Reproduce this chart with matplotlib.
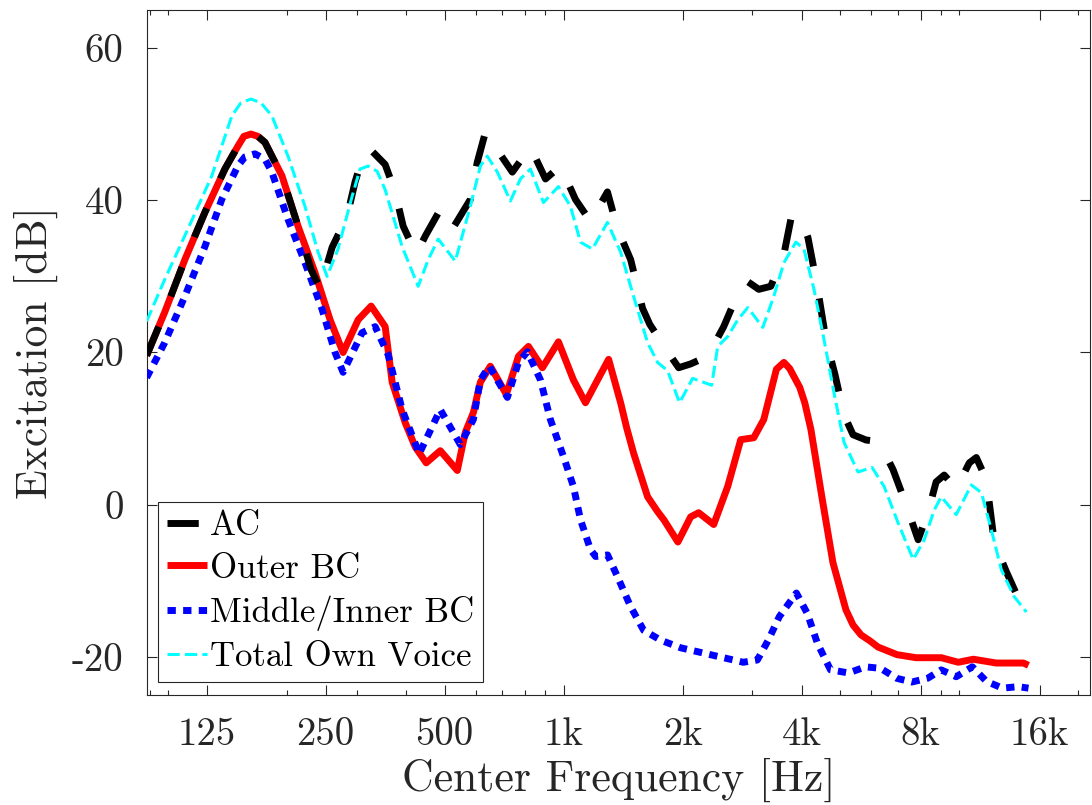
import matplotlib
matplotlib.use("Agg")
import matplotlib.pyplot as plt
from matplotlib.ticker import FixedLocator, FixedFormatter, LogLocator, NullFormatter

plt.rcParams['font.family'] = ['cmr10', 'DejaVu Serif']
plt.rcParams['axes.unicode_minus'] = False

# AC (air conducted)
f_ac = [88.2, 98.0, 110.2, 123.8, 139.1, 150.0, 155.4, 161.9, 168.6, 175.7, 194.0, 213.0,
        229.8, 242.2, 259.7, 283.5, 296.9, 313.0, 324.2, 353.8, 375, 392.9, 424, 446.9,
        487.7, 523, 580.9, 605, 634, 684, 742, 824.3, 900, 982, 1072, 1170, 1291, 1370,
        1478, 1584, 1652, 1833, 1955, 2096, 2315, 2541, 2741, 2924, 3117, 3343, 3608,
        3757, 3891, 4024, 4150, 4375, 4608, 4858, 5120, 5396, 5821, 6280, 6814, 7351,
        7884, 8358, 8756, 9178, 9843, 10621, 11063, 11729, 12290, 13178, 14387, 15080]
ac = [19.6, 25.3, 32.2, 38.4, 44.1, 47.1, 48.4, 48.7, 48.4, 47.6, 43.2, 36.6,
      30.9, 28.4, 33.8, 37.9, 42.4, 46.3, 46.7, 44.7, 41.1, 36.6, 32.9, 35.3,
      38.8, 36.2, 40.1, 45.0, 48.9, 46.4, 43.7, 47.0, 42.8, 44.5, 40.1, 37.2, 41.1, 36.2,
      32.2, 25.8, 23.7, 20.1, 18.0, 18.5, 19.5, 23.4, 27.4, 29.3, 28.3, 28.7, 32.9,
      37.5, 38.2, 37.1, 35.1, 28.9, 21.7, 17.1, 11.8, 9.2, 8.5, 8.3, 4.6, 0.0,
      -4.6, -0.9, 3.0, 3.9, 2.1, 5.5, 6.2, 3.3, -5.0, -8.8, -13.2, -13.8]

# Outer BC
f_outer = [88.2, 98.0, 110.2, 123.8, 139.1, 150.0, 155.4, 161.9, 168.6, 175.7, 194.0, 213.0,
           235.1, 256.7, 276.9, 302.3, 326.0, 353.8, 368.5, 397.5, 421.4, 449.4, 487.7, 538.5,
           564.1, 591.3, 616.0, 652.8, 716.5, 768.9, 815, 884, 970.6, 1059, 1136, 1219, 1300,
           1394, 1444, 1503, 1631, 1729, 1794, 1946, 2096, 2196, 2397, 2601, 2806, 3027,
           3209, 3454, 3608, 3730, 3958, 4074, 4222, 4500, 4800, 5177, 5396, 5652, 5959,
           6242, 6973, 7791, 9019, 9960, 10875, 12433, 14562, 14990]
outer = [19.6, 25.3, 32.2, 38.4, 44.1, 47.1, 48.4, 48.7, 48.4, 47.6, 43.2, 36.6,
         30.5, 24.3, 20.0, 24.3, 26.1, 23.4, 16.1, 10.8, 7.6, 5.5, 7.1, 4.5,
         9.5, 12.1, 16.1, 18.2, 14.5, 19.5, 20.8, 18.0, 21.4, 16.4, 13.4, 16.4, 19.1,
         13.4, 10.1, 6.8, 1.05, -0.9, -2.0, -4.9, -1.6, -1.05, -2.6, 2.4, 8.55, 8.8,
         11.2, 17.8, 18.7, 17.9, 15.4, 13.4, 9.9, 1.05, -7.6, -13.8, -15.8, -17.1, -17.9,
         -18.7, -19.7, -20.1, -20.1, -20.7, -20.3, -20.8, -20.8, -21.1]

# Middle/Inner BC
f_inner = [88.2, 98.0, 110.2, 123.8, 136.6, 150.0, 156.3, 165.7, 175.7, 182.9, 200.9, 221.8,
           244.9, 264.3, 276.9, 309.3, 333.8, 360, 390.6, 431.4, 487.7, 548, 591.3, 616,
           648.9, 720.9, 768.9, 810, 874, 926, 1000, 1059, 1104, 1170, 1205, 1292, 1370,
           1478, 1594, 1761, 1978, 2350, 2848, 3091, 3294, 3513, 3880, 4136, 4385, 4733,
           5256, 5805, 6336, 6955, 7590, 8334, 9019, 9843, 10809, 11729, 12880, 14136, 14990]
inner = [16.7, 21.3, 27.4, 33.9, 40.1, 44.5, 45.7, 46.1, 45.4, 43.7, 37.5, 31.8,
         25.7, 20.0, 17.4, 22.6, 23.4, 19.7, 12.5, 6.7, 12.5, 7.9, 11.2, 16.4,
         18.2, 14.1, 18.7, 20.1, 16.4, 11.2, 6.3, 2.4, -2.0, -5.9, -6.8, -6.6, -9.5,
         -13.4, -16.5, -17.8, -18.8, -19.7, -20.7, -20.4, -17.8, -14.7, -11.6, -14.3, -18.2, -21.7,
         -22.1, -21.3, -21.5, -22.8, -23.3, -22.8, -21.7, -22.6, -21.3, -23.2, -24.1, -23.9, -24.1]

# Total own voice
f_total = [88.2, 98.0, 112.1, 128.9, 144.9, 152.7, 161.9, 171.6, 182.9, 200.9, 221.8, 239.3,
           252.3, 268.9, 291.8, 305.6, 320.4, 337.7, 353.8, 390.6, 428.8, 454.6, 482.0, 532.2,
           580.9, 616.0, 641.4, 680.1, 733.6, 777.6, 824.3, 889.5, 970.6, 1041, 1103.5, 1183,
           1291, 1394, 1503, 1631, 1729, 1833, 1965, 2120, 2369, 2454, 2601, 2757, 2924,
           3191, 3403, 3608, 3869, 4054, 4299, 4557, 4830, 5120, 5555, 6030, 6466, 7018,
           7662, 8169, 8659, 9019, 9843, 10747, 11393, 12075, 12800, 13800, 14810]
total = [24.1, 29.6, 36.2, 43.2, 51.1, 52.8, 53.3, 52.8, 51.1, 45.8, 39.2, 33.2,
         30.0, 33.6, 40.5, 44.1, 44.5, 43.8, 41.4, 33.9, 28.7, 32.2, 34.9, 32.0,
         39.2, 44.5, 45.8, 43.7, 39.9, 42.8, 44.1, 39.7, 41.8, 39.2, 34.5, 33.6,
         37.1, 33.2, 27.4, 21.3, 18.7, 17.6, 13.4, 16.6, 15.7, 20.8, 22.1, 24.3, 25.9,
         23.3, 27.4, 31.8, 34.5, 33.6, 28.3, 21.7, 14.7, 8.2, 4.3, 4.9, 2.4, -2.4,
         -7.2, -4.6, -0.7, 1.05, -1.3, 2.6, 1.6, -3.3, -8.55, -12.1, -14.1]

xticks = [125, 250, 500, 1000, 2000, 4000, 8000, 16000]
xticklabels = ['125', '250', '500', '1k', '2k', '4k', '8k', '16k']
yticks = [-20, 0, 20, 40, 60]

fig = plt.figure(figsize=(10.92, 8.05), dpi=100)
ax = fig.add_axes([147/1092, 1 - 695/805, (1090 - 147)/1092, (695 - 10)/805])

ax.plot(f_outer, outer, color='red', lw=5, solid_capstyle='butt', solid_joinstyle='round',
        label='Outer BC', zorder=2)
ax.plot(f_inner, inner, color='blue', lw=5, dashes=(1.2, 1.05), dash_capstyle='butt',
        label='Middle/Inner BC', zorder=3)
ax.plot(f_ac, ac, color='black', lw=5, dashes=(4.5, 4.7), dash_capstyle='butt',
        label='AC', zorder=4)
ax.plot(f_total, total, color='cyan', lw=2.2, dashes=(4, 1.7), dash_capstyle='butt',
        label='Total Own Voice', zorder=5)

ax.set_xscale('log')
ax.set_xlim(88.39, 21450)
ax.set_ylim(-25, 65)
ax.xaxis.set_major_locator(FixedLocator(xticks))
ax.xaxis.set_major_formatter(FixedFormatter(xticklabels))
ax.xaxis.set_minor_locator(LogLocator(base=10, subs=range(1, 10)))
ax.xaxis.set_minor_formatter(NullFormatter())
ax.yaxis.set_major_locator(FixedLocator(yticks))
ax.yaxis.set_major_formatter(FixedFormatter([str(v) for v in yticks]))

ink = '#262626'
for s in ax.spines.values():
    s.set_color(ink)
    s.set_linewidth(0.8)
ax.tick_params(which='both', direction='in', top=True, right=True, color=ink,
               labelcolor=ink, width=0.8)
ax.tick_params(which='major', length=7.2, labelsize=28)
ax.tick_params(which='minor', length=3.6)
ax.tick_params(axis='x', which='major', pad=16)
ax.tick_params(axis='y', which='major', pad=17)

ax.set_xlabel('Center Frequency [Hz]', fontsize=31.5, color=ink)
ax.set_ylabel('Excitation [dB]', fontsize=31.5, color=ink)
ax.xaxis.set_label_coords(0.5, -0.092)
ax.yaxis.set_label_coords(-0.094, 0.5)

h, l = ax.get_legend_handles_labels()
order = [2, 0, 1, 3]
leg = ax.legend([h[i] for i in order], [l[i] for i in order], loc='lower left',
                bbox_to_anchor=(0.0117, 0.019), fontsize=25, frameon=True,
                fancybox=False, framealpha=1, edgecolor=ink, borderpad=0.25,
                handlelength=1.15, handletextpad=0.1, labelspacing=0.31,
                borderaxespad=0)
leg.get_frame().set_linewidth(0.8)

fig.savefig('out.png', dpi=100)
